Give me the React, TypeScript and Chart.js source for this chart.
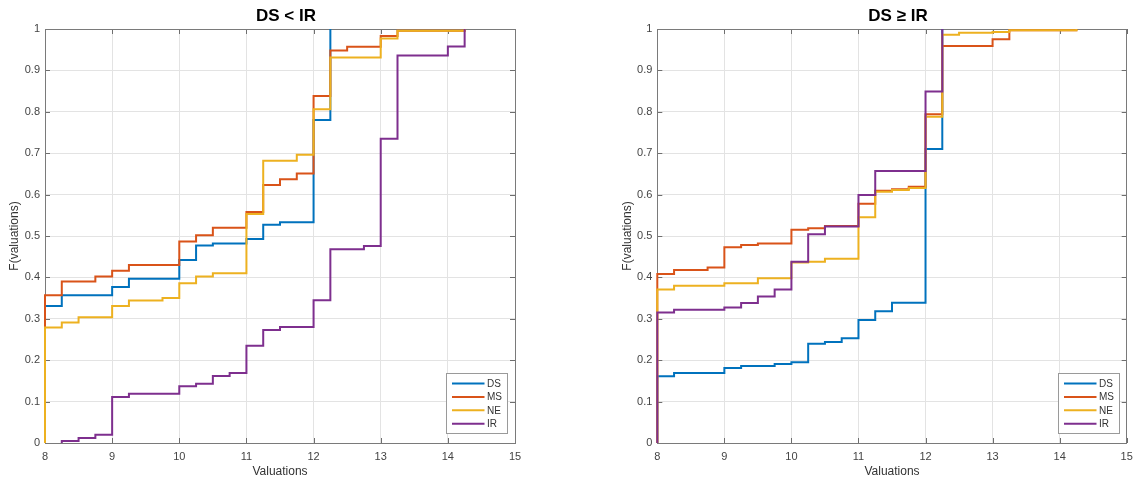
import React, { useEffect, useRef } from "react";
import { Chart, registerables } from "chart.js";

Chart.register(...registerables);

// ---------- data ----------
const SERIES_NAMES = ["DS", "MS", "NE", "IR"];
const SERIES_COLORS = ["#0072BD", "#D95319", "#EDB120", "#7E2F8E"];

const X_MIN = 8;
const X_MAX = 15;
const Y_MIN = 0;
const Y_MAX = 1;

const LEFT_TITLE = "DS < IR";
const RIGHT_TITLE = "DS ≥ IR";
const X_TITLE = "Valuations";
const Y_TITLE = "F(valuations)";

// Left panel: DS < IR (step positions and CDF values after each step)
const L_DS_X = [8, 8, 8.25, 9, 9.25, 10, 10.25, 10.5, 11, 11.25, 11.5, 12, 12.25];
const L_DS_Y = [0, 0.331, 0.357, 0.377, 0.397, 0.442, 0.477, 0.482, 0.493, 0.527, 0.533, 0.78, 1];

const L_MS_X = [8, 8, 8.25, 8.75, 9, 9.25, 10, 10.25, 10.5, 11, 11.25, 11.5, 11.75, 12, 12.25, 12.5, 13, 13.25, 14.25];
const L_MS_Y = [0, 0.357, 0.39, 0.402, 0.416, 0.43, 0.487, 0.502, 0.52, 0.558, 0.623, 0.637, 0.651, 0.838, 0.948, 0.957, 0.983, 0.996, 1];

const L_NE_X = [8, 8, 8.25, 8.5, 9, 9.25, 9.75, 10, 10.25, 10.5, 11, 11.25, 11.75, 12, 12.25, 13, 13.25, 14.25];
const L_NE_Y = [0, 0.279, 0.291, 0.304, 0.331, 0.344, 0.35, 0.386, 0.402, 0.41, 0.553, 0.682, 0.696, 0.806, 0.931, 0.977, 0.996, 1];

const L_IR_X = [8.25, 8.25, 8.5, 8.75, 9, 9.25, 10, 10.25, 10.5, 10.75, 11, 11.25, 11.5, 12, 12.25, 12.75, 13, 13.25, 14, 14.25];
const L_IR_Y = [0, 0.005, 0.012, 0.02, 0.111, 0.119, 0.137, 0.143, 0.162, 0.169, 0.235, 0.273, 0.28, 0.345, 0.468, 0.476, 0.735, 0.936, 0.958, 1];

// Right panel: DS >= IR
const R_DS_X = [8, 8, 8.25, 9, 9.25, 9.75, 10, 10.25, 10.5, 10.75, 11, 11.25, 11.5, 12, 12.25];
const R_DS_Y = [0, 0.161, 0.169, 0.181, 0.186, 0.191, 0.195, 0.24, 0.244, 0.253, 0.297, 0.318, 0.339, 0.71, 1];

const R_MS_X = [8, 8, 8.25, 8.75, 9, 9.25, 9.5, 10, 10.25, 10.5, 11, 11.25, 11.5, 11.75, 12, 12.25, 13, 13.25, 14.25];
const R_MS_Y = [0, 0.408, 0.418, 0.424, 0.473, 0.478, 0.482, 0.515, 0.519, 0.524, 0.578, 0.609, 0.613, 0.619, 0.794, 0.959, 0.975, 0.997, 1];

const R_NE_X = [8, 8, 8.25, 9, 9.5, 10, 10.25, 10.5, 11, 11.25, 11.5, 11.75, 12, 12.25, 12.5, 13, 13.25, 14.25];
const R_NE_Y = [0, 0.371, 0.38, 0.386, 0.398, 0.436, 0.438, 0.445, 0.545, 0.607, 0.611, 0.616, 0.788, 0.986, 0.991, 0.993, 0.997, 1];

const R_IR_X = [8, 8, 8.25, 9, 9.25, 9.5, 9.75, 10, 10.25, 10.5, 11, 11.25, 12, 12.25];
const R_IR_Y = [0, 0.315, 0.322, 0.327, 0.338, 0.354, 0.371, 0.438, 0.504, 0.523, 0.599, 0.657, 0.849, 1];

// ---------- helpers ----------
const FONT = "'Liberation Sans', Arial, Helvetica, sans-serif";

function pts(xs: number[], ys: number[]) {
  return xs.map((x, i) => ({ x, y: ys[i] }));
}

const matlabPlugin = {
  id: "matlabDecor",
  beforeDatasetsDraw(chart: any) {
    const { ctx, chartArea } = chart;
    const { left, right, top, bottom } = chartArea;
    const xs = chart.scales.x;
    const ys = chart.scales.y;
    ctx.save();
    // inward tick marks
    ctx.strokeStyle = "#6e6e6e";
    ctx.lineWidth = 1;
    const tl = 5;
    ctx.beginPath();
    xs.ticks.forEach((t: any) => {
      const px = Math.round(xs.getPixelForValue(t.value)) + 0.5;
      ctx.moveTo(px, bottom);
      ctx.lineTo(px, bottom - tl);
      ctx.moveTo(px, top);
      ctx.lineTo(px, top + tl);
    });
    ys.ticks.forEach((t: any) => {
      const py = Math.round(ys.getPixelForValue(t.value)) + 0.5;
      ctx.moveTo(left, py);
      ctx.lineTo(left + tl, py);
      ctx.moveTo(right, py);
      ctx.lineTo(right - tl, py);
    });
    ctx.stroke();
    // box
    ctx.strokeStyle = "#7a7a7a";
    ctx.strokeRect(Math.round(left) + 0.5, Math.round(top) + 0.5, Math.round(right - left), Math.round(bottom - top));
    ctx.restore();
  },
  afterDraw(chart: any, _args: any, opts: any) {
    const { ctx, chartArea } = chart;
    const { left, right, bottom } = chartArea;
    ctx.save();
    // title
    ctx.fillStyle = "#000";
    ctx.font = `bold 17px ${FONT}`;
    ctx.textAlign = "center";
    ctx.textBaseline = "alphabetic";
    ctx.fillText(opts.title, (left + right) / 2 + 6, 21);

    // legend
    const w = 61;
    const h = 60;
    const bx = Math.round(right - 8 - w) + 0.5;
    const by = Math.round(bottom - 10 - h) + 0.5;
    ctx.fillStyle = "#fff";
    ctx.fillRect(bx, by, w, h);
    ctx.strokeStyle = "#9a9a9a";
    ctx.lineWidth = 1;
    ctx.strokeRect(bx, by, w, h);
    ctx.font = `10px ${FONT}`;
    ctx.textAlign = "left";
    ctx.textBaseline = "middle";
    chart.data.datasets.forEach((ds: any, i: number) => {
      const cy = by + 10 + i * 13.4;
      ctx.strokeStyle = ds.borderColor;
      ctx.lineWidth = 2;
      ctx.beginPath();
      ctx.moveTo(bx + 5.5, cy);
      ctx.lineTo(bx + 38, cy);
      ctx.stroke();
      ctx.fillStyle = "#333";
      ctx.fillText(ds.label, bx + 40.5, cy + 0.5);
    });
    ctx.restore();
  },
};

function buildConfig(series: { x: number[]; y: number[] }[], title: string, padLeft: number, padRight: number, yTitlePad: number) {
  return {
    type: "line",
    data: {
      datasets: series.map((s, i) => ({
        label: SERIES_NAMES[i],
        data: pts(s.x, s.y),
        borderColor: SERIES_COLORS[i],
        backgroundColor: SERIES_COLORS[i],
        borderWidth: 2,
        pointRadius: 0,
        stepped: true,
        fill: false,
        clip: 2,
        order: series.length - i,
      })),
    },
    options: {
      responsive: false,
      animation: false,
      devicePixelRatio: 1,
      layout: { padding: { left: padLeft, right: padRight, top: 29, bottom: 0 } },
      plugins: {
        legend: { display: false },
        title: { display: false },
        tooltip: { enabled: false },
        matlabDecor: { title },
      },
      scales: {
        x: {
          type: "linear",
          min: X_MIN,
          max: X_MAX,
          afterFit: (s: any) => {
            s.height = 39;
            s.paddingLeft = 0;
            s.paddingRight = 0;
          },
          ticks: {
            stepSize: 1,
            padding: 7,
            color: "#444",
            font: { family: FONT, size: 11 },
          },
          grid: { color: "#e3e3e3", drawTicks: false, lineWidth: 1 },
          border: { display: false },
          title: {
            display: true,
            text: X_TITLE,
            color: "#333",
            font: { family: FONT, size: 12 },
            padding: { top: 0, bottom: 3 },
          },
        },
        y: {
          type: "linear",
          min: Y_MIN,
          max: Y_MAX,
          afterFit: (s: any) => {
            s.width = 45;
            s.paddingTop = 0;
            s.paddingBottom = 0;
          },
          ticks: {
            stepSize: 0.1,
            padding: 5,
            color: "#444",
            font: { family: FONT, size: 11 },
            callback: (v: number) => String(Number(Number(v).toFixed(1))),
          },
          grid: { color: "#e3e3e3", drawTicks: false, lineWidth: 1 },
          border: { display: false },
          title: {
            display: true,
            text: Y_TITLE,
            color: "#333",
            font: { family: FONT, size: 12 },
            padding: { top: yTitlePad, bottom: 0 },
          },
        },
      },
    },
    plugins: [matlabPlugin],
  };
}

function Panel(props: { series: { x: number[]; y: number[] }[]; title: string; left: number; padLeft: number; padRight: number; yTitlePad: number }) {
  const ref = useRef<HTMLCanvasElement | null>(null);
  useEffect(() => {
    if (!ref.current) return;
    const chart = new Chart(ref.current, buildConfig(props.series, props.title, props.padLeft, props.padRight, props.yTitlePad) as any);
    return () => chart.destroy();
  }, []);
  return (
    <canvas
      ref={ref}
      width={568}
      height={482}
      style={{ position: "absolute", left: props.left, top: 0, width: 568, height: 482, display: "block" }}
    />
  );
}

export default function App() {
  const leftSeries = [
    { x: L_DS_X, y: L_DS_Y },
    { x: L_MS_X, y: L_MS_Y },
    { x: L_NE_X, y: L_NE_Y },
    { x: L_IR_X, y: L_IR_Y },
  ];
  const rightSeries = [
    { x: R_DS_X, y: R_DS_Y },
    { x: R_MS_X, y: R_MS_Y },
    { x: R_NE_X, y: R_NE_Y },
    { x: R_IR_X, y: R_IR_Y },
  ];
  return (
    <div style={{ position: "fixed", left: 0, top: 0, width: 1136, height: 482, background: "#fff", overflow: "hidden" }}>
      <Panel series={leftSeries} title={LEFT_TITLE} left={0} padLeft={0} padRight={53} yTitlePad={7} />
      <Panel series={rightSeries} title={RIGHT_TITLE} left={568} padLeft={44.3} padRight={9.3} yTitlePad={8.5} />
    </div>
  );
}
